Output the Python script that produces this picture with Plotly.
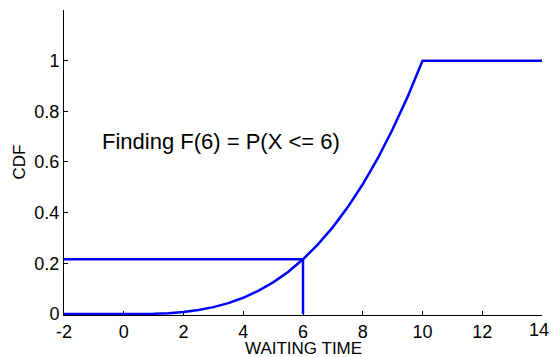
import plotly.graph_objects as go

# CDF curve
wait_time = [-2, 0, 0.5, 1, 1.5, 2, 2.5, 3, 3.5, 4, 4.5, 5, 5.5, 6, 6.5, 7, 7.5, 8, 8.5, 9, 9.5, 10, 14]
cdf = [0, 0, 0.0001, 0.001, 0.003, 0.008, 0.016, 0.027, 0.043, 0.064, 0.091, 0.125, 0.166, 0.216,
       0.275, 0.343, 0.422, 0.512, 0.614, 0.729, 0.857, 1.0, 1.0]

# Guide lines for F(6)
guide_h_x = [-2, 6]
guide_h_y = [0.216, 0.216]
guide_v_x = [6, 6]
guide_v_y = [0, 0.216]

x_ticks = [-2, 0, 2, 4, 6, 8, 10, 12, 14]
x_tick_labels = ["-2", "0", "2", "4", "6", "8", "10", "12", "14"]
y_ticks = [0, 0.2, 0.4, 0.6, 0.8, 1]
y_tick_labels = ["0", "0.2", "0.4", "0.6", "0.8", "1"]

blue = "#0000FF"
font = "Liberation Sans, Arial, sans-serif"

fig = go.Figure()
for xs, ys in [(wait_time, cdf), (guide_h_x, guide_h_y), (guide_v_x, guide_v_y)]:
    fig.add_trace(go.Scatter(x=xs, y=ys, mode="lines", line=dict(color=blue, width=2.5),
                             showlegend=False, hoverinfo="skip"))

fig.add_annotation(x=3.25, y=0.682, text="Finding F(6) = P(X <= 6)", showarrow=False,
                   font=dict(size=22, color="black", family=font), xanchor="center", yanchor="middle")

# last x tick label, kept inside the page edge
shown_x_labels = x_tick_labels[:-1] + [""]
fig.add_annotation(x=x_ticks[-1], y=0, yref="paper", text=x_tick_labels[-1], showarrow=False,
                   xanchor="right", yanchor="top", xshift=9, yshift=-3,
                   font=dict(size=18, family=font, color="black"))

# axis titles
fig.add_annotation(x=0.5, y=0, xref="paper", yref="paper", text="WAITING TIME", showarrow=False,
                   xanchor="center", yanchor="middle", yshift=-33, font=dict(size=17, family=font))
fig.add_annotation(x=0, y=0.5, xref="paper", yref="paper", text="CDF", showarrow=False,
                   textangle=-90, xanchor="center", yanchor="middle", xshift=-45,
                   font=dict(size=17, family=font))

fig.update_layout(
    width=551, height=357,
    margin=dict(l=64, r=9, t=10, b=42),
    paper_bgcolor="white", plot_bgcolor="white",
    font=dict(family=font, size=18, color="black"),
    xaxis=dict(range=[-2, 14], tickvals=x_ticks, ticktext=shown_x_labels, ticks="inside", ticklen=4,
               tickcolor="black", showline=True, linecolor="black", linewidth=1, showgrid=False,
               zeroline=False, layer="below traces", automargin=False, ticklabeloverflow="allow"),
    yaxis=dict(range=[-0.004, 1.2], tickvals=y_ticks, ticktext=y_tick_labels, ticks="inside",
               ticklen=4, tickcolor="black", showline=True, linecolor="black", linewidth=1,
               showgrid=False, zeroline=False, layer="below traces", automargin=False,
               ticklabeloverflow="allow"),
)

fig.write_html("out.html", config={"displayModeBar": False},
               post_script="document.body.style.margin='0';document.body.style.overflow='hidden';")
